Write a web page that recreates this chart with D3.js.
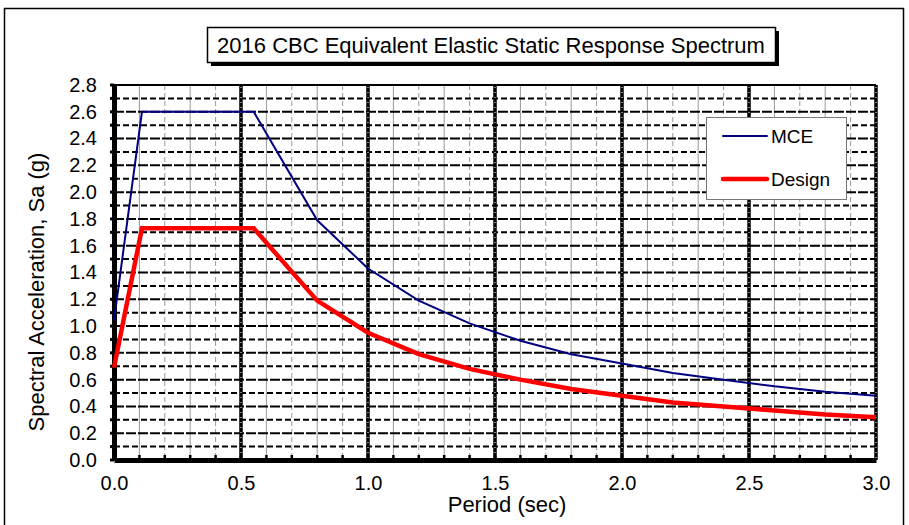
<!DOCTYPE html>
<html><head><meta charset="utf-8">
<script src="https://cdn.jsdelivr.net/npm/d3@7"></script>
<style>body{margin:0;background:#fff;}svg{display:block;font-family:"Liberation Sans",Arial,sans-serif;}</style>
</head><body><svg id="c" width="909" height="525"></svg>
<script>
const periods = [0, 0.11, 0.55, 0.8, 1.0, 1.2, 1.4, 1.6, 1.8, 2.0, 2.2, 2.4, 2.6, 2.8, 3.0];
const mce     = [1.04, 2.6, 2.6, 1.79, 1.43, 1.19, 1.02, 0.89, 0.79, 0.72, 0.65, 0.60, 0.55, 0.51, 0.48];
const design  = [0.69, 1.73, 1.73, 1.19, 0.95, 0.79, 0.68, 0.60, 0.53, 0.48, 0.43, 0.40, 0.37, 0.34, 0.32];
const xTicks = [0, 0.5, 1.0, 1.5, 2.0, 2.5, 3.0];
const yTicks = [0, 0.2, 0.4, 0.6, 0.8, 1.0, 1.2, 1.4, 1.6, 1.8, 2.0, 2.2, 2.4, 2.6, 2.8];
const seriesNames = ["MCE", "Design"];
const title = "2016 CBC Equivalent Elastic Static Response Spectrum";

const svg = d3.select("#c");
const L = 114, R = 876, T = 85, B = 460;
const x = d3.scaleLinear().domain([0, 3]).range([L, R]);
const y = d3.scaleLinear().domain([0, 2.8]).range([B, T]);
const FONT = "Liberation Sans, Arial, sans-serif";

// outer frame
svg.append("rect").attr("x", 4.5).attr("y", 8.5).attr("width", 899).attr("height", 530)
  .attr("fill", "none").attr("stroke", "#000").attr("stroke-width", 1.5);

// title box with shadow
svg.append("rect").attr("x", 211).attr("y", 31).attr("width", 568).attr("height", 35).attr("fill", "#000");
svg.append("rect").attr("x", 207.5).attr("y", 27.5).attr("width", 568).attr("height", 35)
  .attr("fill", "#fff").attr("stroke", "#000").attr("stroke-width", 1.5);
svg.append("text").attr("x", 491).attr("y", 53).attr("text-anchor", "middle")
  .attr("font-size", 22).attr("fill", "#000").text(title);

const g = svg.append("g");
// minor vertical grid every 0.1
const minorX = d3.range(1, 30).filter(i => i % 5 !== 0).map(i => i / 10);
g.selectAll(".vx").data(minorX).join("line")
  .attr("x1", d => x(d)).attr("x2", d => x(d)).attr("y1", T).attr("y2", B)
  .attr("stroke", "#999").attr("stroke-width", 1)
  .attr("stroke-dasharray", (d, i) => (i % 2 ? "5,3" : null));
// horizontal grid every 0.1
const hy = d3.range(1, 28).map(i => i / 10);
g.selectAll(".hy").data(hy).join("line")
  .attr("x1", L).attr("x2", R).attr("y1", d => y(d)).attr("y2", d => y(d))
  .attr("stroke", "#000").attr("stroke-width", 2)
  .attr("stroke-dasharray", (d, i) => (i % 2 ? "10,2" : "6,3"));
// major vertical grid at 0.5
const majorX = [0.5, 1.0, 1.5, 2.0, 2.5, 3.0];
g.selectAll(".mx").data(majorX).join("line")
  .attr("x1", d => x(d)).attr("x2", d => x(d)).attr("y1", T).attr("y2", B)
  .attr("stroke", "#000").attr("stroke-width", 3.5);
g.selectAll(".mxd").data(majorX).join("line")
  .attr("x1", d => x(d)).attr("x2", d => x(d)).attr("y1", T + 2).attr("y2", B)
  .attr("stroke", "#fff").attr("stroke-width", 1).attr("stroke-dasharray", "1,4");
// top border
g.append("line").attr("x1", L).attr("x2", R).attr("y1", T).attr("y2", T).attr("stroke", "#000").attr("stroke-width", 2);

// axes
const xAxis = d3.axisBottom(x).tickValues(xTicks).tickFormat(d3.format(".1f")).tickSize(0).tickPadding(16);
const ax = svg.append("g").attr("transform", `translate(0,${B})`).call(xAxis);
ax.select(".domain").attr("stroke", "#000").attr("stroke-width", 5);
ax.selectAll("text").attr("font-size", 20).attr("fill", "#000").attr("font-family", FONT);
// x minor tick marks
svg.append("g").selectAll("line").data(d3.range(1, 30).map(i => i / 10)).join("line")
  .attr("x1", d => x(d)).attr("x2", d => x(d)).attr("y1", B - 5).attr("y2", B)
  .attr("stroke", "#000").attr("stroke-width", 2.5);

const yAxis = d3.axisLeft(y).tickValues(yTicks).tickFormat(d3.format(".1f")).tickSize(0).tickPadding(17);
const ay = svg.append("g").attr("transform", `translate(${L},0)`).call(yAxis);
ay.select(".domain").attr("stroke", "#000").attr("stroke-width", 5);
ay.selectAll("text").attr("font-size", 20).attr("fill", "#000").attr("font-family", FONT);
svg.append("g").selectAll("line").data(d3.range(0, 29).map(i => i / 10)).join("line")
  .attr("x1", L - 4).attr("x2", L).attr("y1", d => y(d)).attr("y2", d => y(d))
  .attr("stroke", "#000").attr("stroke-width", 3);

// series
const data = periods.map((p, i) => ({ p, m: mce[i], d: design[i] }));
const lineM = d3.line().x(d => x(d.p)).y(d => y(d.m));
const lineD = d3.line().x(d => x(d.p)).y(d => y(d.d));
svg.append("path").datum(data).attr("d", lineM).attr("fill", "none").attr("stroke", "#000080").attr("stroke-width", 2);
svg.append("path").datum(data).attr("d", lineD).attr("fill", "none").attr("stroke", "#ff0000").attr("stroke-width", 4.5);

// legend
const lg = svg.append("g");
lg.append("rect").attr("x", 706.5).attr("y", 117.5).attr("width", 140).attr("height", 82)
  .attr("fill", "#fff").attr("stroke", "#777").attr("stroke-width", 1);
const cols = ["#000080", "#ff0000"], widths = [2, 4.5], ly = [136, 179];
seriesNames.forEach((n, i) => {
  lg.append("line").attr("x1", 723).attr("x2", 767).attr("y1", ly[i]).attr("y2", ly[i])
    .attr("stroke", cols[i]).attr("stroke-width", widths[i]).attr("stroke-linecap", "round");
  lg.append("text").attr("x", 771).attr("y", ly[i] + 7).attr("font-size", 19).attr("fill", "#000").text(n);
});

// axis titles
svg.append("text").attr("x", 507).attr("y", 512).attr("text-anchor", "middle").attr("font-size", 22).text("Period (sec)");
svg.append("text").attr("transform", "translate(44,292) rotate(-90)").attr("text-anchor", "middle")
  .attr("font-size", 22).text("Spectral Acceleration, Sa (g)");
</script></body></html>
